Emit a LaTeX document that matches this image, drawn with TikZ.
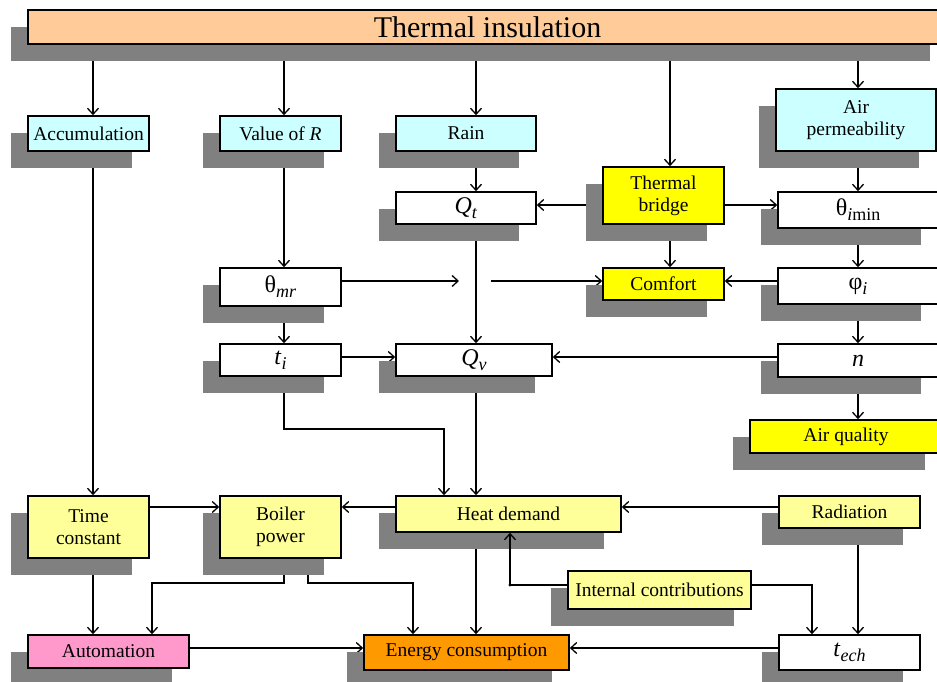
\documentclass[tikz,border=0pt]{standalone}
\usepackage{fontspec}
\setmainfont{Liberation Serif}
\usepackage{tikz}
\usetikzlibrary{arrows.meta, shadows, backgrounds}
\definecolor{insulorange}{RGB}{255,204,153}
\definecolor{paramcyan}{RGB}{204,255,255}
\definecolor{effectyellow}{RGB}{255,255,0}
\definecolor{paleyellow}{RGB}{255,255,153}
\definecolor{autopink}{RGB}{255,153,204}
\definecolor{energyorange}{RGB}{255,153,0}
\definecolor{shadowgray}{RGB}{128,128,128}
\newcommand{\lowidx}[1]{\raisebox{-0.45ex}{\fontsize{18}{18}\selectfont #1}}

\begin{document}
\begin{tikzpicture}[x=1pt, y=-1pt,
    box/.style={draw, line width=1.6pt, inner sep=2pt, align=center,
        font=\fontsize{19.5}{22}\selectfont,
        drop shadow={shadow xshift=-17pt, shadow yshift=-17pt, fill=shadowgray, opacity=1}},
    var/.style={box, fill=white, font=\fontsize{24}{26}\selectfont},
    arr/.style={-{Straight Barb[length=6pt,width=11pt]}, line width=1.3pt}]
    \path[use as bounding box, clip] (0,0) rectangle (937,682);

    % Top bar
    \node[box, fill=insulorange, minimum width=919, minimum height=34,
        font=\fontsize{30}{34}\selectfont] (title) at (487.5,27) {Thermal insulation};

    % First row of parameters
    \node[box, fill=paramcyan, minimum width=121, minimum height=35] (acc) at (88.5,133.5) {Accumulation};
    \node[box, fill=paramcyan, minimum width=121, minimum height=35] (valR) at (280.5,133.5) {Value of \textit{R}};
    \node[box, fill=paramcyan, minimum width=140, minimum height=35] (rain) at (466,133.5) {Rain};
    \node[box, fill=paramcyan, minimum width=160, minimum height=62] (airperm) at (856,120) {Air\\permeability};

    % Middle rows
    \node[box, fill=effectyellow, minimum width=121, minimum height=57] (tbridge) at (663.5,195.5) {Thermal\\bridge};
    \node[var, minimum width=140, minimum height=32] (qt) at (466,208) {\textit{Q}\lowidx{\textit{t}}};
    \node[var, minimum width=160, minimum height=36] (thimin) at (858,210) {θ\lowidx{\textit{i}min}};
    \node[var, minimum width=121, minimum height=38] (thmr) at (280.5,287) {θ\lowidx{\textit{mr}}};
    \node[box, fill=effectyellow, minimum width=121, minimum height=32] (comfort) at (663.5,284) {Comfort};
    \node[var, minimum width=160, minimum height=36] (phii) at (858,286) {φ\lowidx{\textit{i}}};
    \node[var, minimum width=121, minimum height=32] (ti) at (280.5,360) {\textit{t}\lowidx{\textit{i}}};
    \node[var, minimum width=156, minimum height=32] (qv) at (474,360) {\textit{Q}\lowidx{\textit{v}}};
    \node[var, minimum width=160, minimum height=33] (n) at (858,360.5) {\textit{n}};
    \node[box, fill=effectyellow, minimum width=192, minimum height=33] (airq) at (846,436.5) {Air quality};

    % Lower rows
    \node[box, fill=paleyellow, minimum width=121, minimum height=62] (timec) at (88.5,527) {Time\\constant};
    \node[box, fill=paleyellow, minimum width=121, minimum height=62] (boiler) at (280.5,527) {Boiler\\power};
    \node[box, fill=paleyellow, minimum width=225, minimum height=36] (heat) at (508.5,514) {Heat demand};
    \node[box, fill=paleyellow, minimum width=141, minimum height=32] (rad) at (849.5,512) {Radiation};
    \node[box, fill=paleyellow, minimum width=183, minimum height=38] (intc) at (659.5,590) {Internal contributions};
    \node[box, fill=autopink, minimum width=161, minimum height=33] (autom) at (108.5,651.5) {Automation};
    \node[box, fill=energyorange, minimum width=205, minimum height=35] (energy) at (466.5,652.5) {Energy consumption};
    \node[var, minimum width=141, minimum height=35] (tech) at (849.5,652.5) {\textit{t}\lowidx{\textit{ech}}};

    % Columns and rows of the links
    \coordinate (colA) at (93,0);
    \coordinate (colR) at (284,0);
    \coordinate (colQ) at (476,0);
    \coordinate (colB) at (670,0);
    \coordinate (colP) at (858,0);
    \coordinate (colI) at (510,0);
    \coordinate (colT) at (812,0);
    \coordinate (colS) at (308,0);
    \coordinate (colU) at (152,0);
    \coordinate (colE) at (413,0);
    \coordinate (rowTB) at (0,205);
    \coordinate (rowC) at (0,281);
    \coordinate (rowV) at (0,357);
    \coordinate (rowH) at (0,507);
    \coordinate (rowI) at (0,585);
    \coordinate (rowK) at (0,583);
    \coordinate (rowE) at (0,648);
    \coordinate (kneeT) at (444,429);
    \coordinate (gapL) at (459,281);
    \coordinate (gapR) at (491,281);

    % Internal contributions runs over the shadow
    \draw[arr] (intc.west |- rowI) -| (heat.south -| colI);
    \fill (colI |- rowI) circle (1.6);

    \begin{pgfonlayer}{background}
    % Links from the top bar
    \draw[arr] (title.south -| colA) -- (acc.north -| colA);
    \draw[arr] (title.south -| colR) -- (valR.north -| colR);
    \draw[arr] (title.south -| colQ) -- (rain.north -| colQ);
    \draw[arr] (title.south -| colB) -- (tbridge.north -| colB);
    \draw[arr] (title.south -| colP) -- (airperm.north -| colP);

    % Middle links
    \draw[arr] (rain.south -| colQ) -- (qt.north -| colQ);
    \draw[arr] (tbridge.west |- rowTB) -- (qt.east |- rowTB);
    \draw[arr] (tbridge.east |- rowTB) -- (thimin.west |- rowTB);
    \draw[arr] (airperm.south -| colP) -- (thimin.north -| colP);
    \draw[arr] (valR.south -| colR) -- (thmr.north -| colR);
    \draw[arr] (thmr.east |- rowC) -- (gapL);
    \draw[arr] (gapR) -- (comfort.west |- rowC);
    \draw[arr] (tbridge.south -| colB) -- (comfort.north -| colB);
    \draw[arr] (phii.west |- rowC) -- (comfort.east |- rowC);
    \draw[arr] (thimin.south -| colP) -- (phii.north -| colP);
    \draw[arr] (phii.south -| colP) -- (n.north -| colP);
    \draw[arr] (n.south -| colP) -- (airq.north -| colP);
    \draw[arr] (n.west |- rowV) -- (qv.east |- rowV);
    \draw[arr] (thmr.south -| colR) -- (ti.north -| colR);
    \draw[arr] (ti.east |- rowV) -- (qv.west |- rowV);
    \draw[arr] (qt.south -| colQ) -- (qv.north -| colQ);
    \draw[arr] (ti.south -| colR) |- (kneeT) -- (heat.north -| kneeT);
    \draw[arr] (qv.south -| colQ) -- (heat.north -| colQ);
    \draw[arr] (acc.south -| colA) -- (timec.north -| colA);

    % Lower links
    \draw[arr] (heat.west |- rowH) -- (boiler.east |- rowH);
    \draw[arr] (timec.east |- rowH) -- (boiler.west |- rowH);
    \draw[arr] (rad.west |- rowH) -- (heat.east |- rowH);
    \draw[arr] (intc.east |- rowI) -| (tech.north -| colT);
    \draw[arr] (rad.south -| colP) -- (tech.north -| colP);
    \draw[arr] (heat.south -| colQ) -- (energy.north -| colQ);
    \draw[arr] (timec.south -| colA) -- (autom.north -| colA);
    \draw[arr] (boiler.south -| colR) -- (colR |- rowK) -| (autom.north -| colU);
    \draw[arr] (boiler.south -| colS) -- (colS |- rowK) -| (energy.north -| colE);
    \draw[arr] (tech.west |- rowE) -- (energy.east |- rowE);
    \draw[arr] (autom.east |- rowE) -- (energy.west |- rowE);
    \end{pgfonlayer}
\end{tikzpicture}
\end{document}
